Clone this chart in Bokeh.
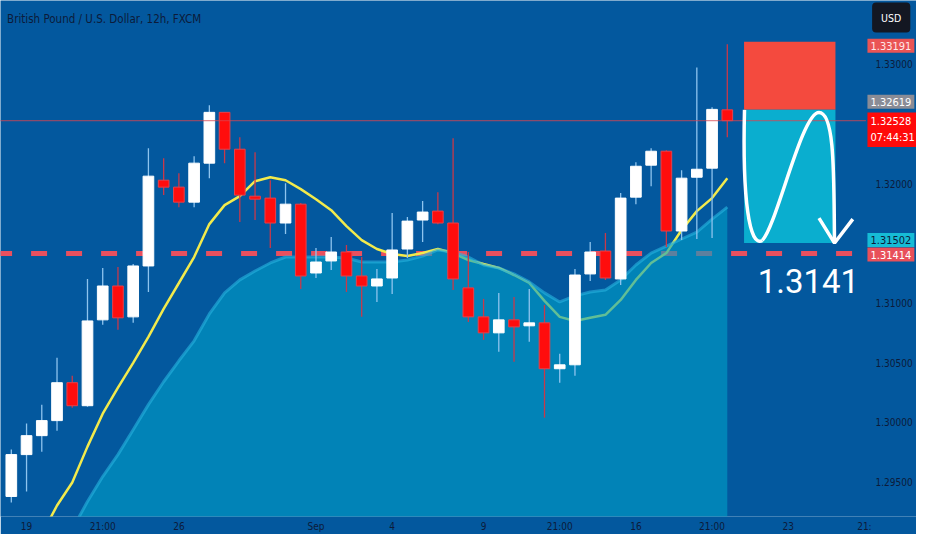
import numpy as np
from bokeh.plotting import figure
from bokeh.models import Range1d, FixedTicker, PrintfTickFormatter, Label, ColumnDataSource
from bokeh.embed import file_html
from bokeh.resources import INLINE

nan = float("nan")

title = "British Pound / U.S. Dollar, 12h, FXCM"

# 12h candles, GBP/USD
opens = [1.29377, 1.29728, 1.29887, 1.30013, 1.30331, 1.30138, 1.30858, 1.31142, 1.30883, 1.31310,
         1.32029, 1.31971, 1.31845, 1.32172, 1.32598, 1.32289, 1.31895, 1.31879, 1.31670, 1.31828,
         1.31251, 1.31352, 1.31427, 1.31226, 1.31142, 1.31209, 1.31452, 1.31695, 1.31770, 1.31670,
         1.31126, 1.30883, 1.30749, 1.30858, 1.30808, 1.30833, 1.30448, 1.30481, 1.31243, 1.31435,
         1.31201, 1.31887, 1.32155, 1.32272, 1.31603, 1.32054, 1.32130, 1.32619]
closes = [1.29728, 1.29887, 1.30013, 1.30331, 1.30138, 1.30849, 1.31142, 1.30875, 1.31310, 1.32063,
          1.31971, 1.31845, 1.32172, 1.32598, 1.32289, 1.31904, 1.31870, 1.31670, 1.31828, 1.31226,
          1.31343, 1.31427, 1.31226, 1.31142, 1.31201, 1.31444, 1.31686, 1.31762, 1.31670, 1.31201,
          1.30883, 1.30749, 1.30858, 1.30799, 1.30833, 1.30448, 1.30481, 1.31234, 1.31427, 1.31209,
          1.31879, 1.32146, 1.32272, 1.31603, 1.32046, 1.32121, 1.32623, 1.32528]
highs = [1.29770, 1.29988, 1.30147, 1.30540, 1.30389, 1.31201, 1.31293, 1.31301, 1.31326, 1.32297,
         1.32213, 1.32088, 1.32230, 1.32657, 1.32598, 1.32389, 1.32264, 1.32029, 1.32004, 1.31837,
         1.31460, 1.31552, 1.31485, 1.31385, 1.31285, 1.31753, 1.31720, 1.31854, 1.31929, 1.32381,
         1.31427, 1.31034, 1.31084, 1.31050, 1.31117, 1.30983, 1.30573, 1.31285, 1.31510, 1.31586,
         1.31921, 1.32180, 1.32297, 1.32280, 1.32113, 1.32975, 1.32640, 1.33170]
lows = [1.29326, 1.29418, 1.29753, 1.29929, 1.30120, 1.30130, 1.30816, 1.30774, 1.30833, 1.31092,
        1.31904, 1.31803, 1.31803, 1.32046, 1.32172, 1.31678, 1.31695, 1.31460, 1.31577, 1.31117,
        1.31209, 1.31276, 1.31092, 1.30883, 1.31008, 1.31075, 1.31377, 1.31510, 1.31660, 1.31109,
        1.30841, 1.30690, 1.30590, 1.30506, 1.30674, 1.30038, 1.30331, 1.30389, 1.31184, 1.31192,
        1.31151, 1.31828, 1.31979, 1.31469, 1.31527, 1.31536, 1.31544, 1.32389]

# moving averages (fast = yellow line, slow = filled area)
ma_fast = [nan, nan,
           1.29059, 1.29301, 1.29494, 1.29795, 1.30071, 1.30289, 1.30498, 1.30716, 1.30950, 1.31167,
           1.31385, 1.31661, 1.31820, 1.31895, 1.32021, 1.32054, 1.32029, 1.31954, 1.31870, 1.31778,
           1.31644, 1.31527, 1.31452, 1.31410, 1.31393, 1.31418, 1.31452, 1.31418, 1.31360, 1.31326,
           1.31293, 1.31234, 1.31167, 1.31017, 1.30883, 1.30849, 1.30875, 1.30900, 1.31025, 1.31193,
           1.31335, 1.31418, 1.31611, 1.31770, 1.31879, 1.32046]
ma_slow = [nan, nan, nan, nan,
           1.29101, 1.29335, 1.29544, 1.29728, 1.29937, 1.30147, 1.30339, 1.30515, 1.30682, 1.30908,
           1.31084, 1.31193, 1.31268, 1.31335, 1.31385, 1.31385, 1.31385, 1.31385, 1.31377, 1.31343,
           1.31343, 1.31343, 1.31360, 1.31393, 1.31444, 1.31427, 1.31385, 1.31318, 1.31293, 1.31243,
           1.31176, 1.31084, 1.31008, 1.31059, 1.31092, 1.31109, 1.31193, 1.31318, 1.31418, 1.31477,
           1.31536, 1.31594, 1.31703, 1.31803]

x_ticks = [1, 6, 11, 20, 25, 31, 36, 41, 46, 51, 56]
x_labels = ["19", "21:00", "26", "Sep", "4", "9", "21:00", "16", "21:00", "23", "21:"]
y_ticks = [1.295, 1.300, 1.305, 1.310, 1.320, 1.330]

# short position drawing
stop_price = 1.33191
entry_price = 1.32619
last_price = 1.32528
last_time = "07:44:31"
target_price = 1.31502
level_price = 1.31414
level_text = "1.3141"
trade_start, trade_end = 48.1, 54.1

BG = "#03589e"
INK = "#0c1b3a"
FONT = "Roboto"
NARROW = "DejaVu Sans Condensed"

y_top, y_bottom = 1.33536, 1.29209
chart_end = 56.1     # right edge of the candle pane, price scale sits after it
scale_x = 56.6
tag_x = 56.2

idx = list(range(len(opens)))
up = [c >= o for o, c in zip(opens, closes)]
src = ColumnDataSource(dict(
    x=idx, h=highs, l=lows,
    top=[max(o, c) for o, c in zip(opens, closes)],
    bot=[min(o, c) for o, c in zip(opens, closes)],
    body=["#ffffff" if u else "#ff0d0d" for u in up],
    edge=["#ffffff" if u else "#e8404a" for u in up],
    wick=["#8ec4ee" if u else "#c8394a" for u in up],
))

p = figure(width=916, height=534, x_range=Range1d(-0.71, 59.42), y_range=Range1d(y_bottom, y_top),
           y_axis_location="right", output_backend="svg", toolbar_location=None,
           background_fill_color=BG, border_fill_color=BG, outline_line_color=None,
           min_border=0, min_border_bottom=17)
p.grid.visible = False

for ax in (p.xaxis[0], p.yaxis[0]):
    ax.axis_line_color = None
    ax.major_tick_line_color = None
    ax.minor_tick_line_color = None
    ax.major_tick_out = 0
    ax.major_tick_in = 0
    ax.minor_tick_out = 0
    ax.major_label_text_color = INK
    ax.major_label_text_font = NARROW
    ax.major_label_text_font_size = "10px"
p.xaxis.ticker = FixedTicker(ticks=x_ticks)
p.xaxis.major_label_overrides = dict(zip(x_ticks, x_labels))
p.xaxis.major_label_standoff = 4
p.yaxis.ticker = FixedTicker(ticks=y_ticks)
p.yaxis.formatter = PrintfTickFormatter(format="%.5f")
p.yaxis.major_label_standoff = 2
p.yaxis.fixed_location = scale_x

# horizontal level + fast MA, under the translucent area
p.line([-1, chart_end], [level_price, level_price], line_color="#e8505f", line_width=5, line_dash="16 19")
p.line(idx, ma_fast, line_color="#f2ea4c", line_width=2.5)

xs = np.array(idx, dtype=float)
ys = np.array(ma_slow)
m = ~np.isnan(ys)
p.varea(x=xs[m], y1=1.28, y2=ys[m], fill_color="#00a0c8", fill_alpha=0.6)
p.line(xs[m], ys[m], line_color="#28b4e0", line_width=3, line_alpha=0.6)

# candles
p.segment(x0="x", y0="h", x1="x", y1="l", line_color="wick", line_width=1.3, source=src)
p.vbar(x="x", top="top", bottom="bot", width=0.7, fill_color="body", line_color="edge", line_width=1, source=src)

# short position boxes
p.quad(left=[trade_start], right=[trade_end], top=[stop_price], bottom=[entry_price],
       fill_color="#f44a3e", line_color=None)
p.quad(left=[trade_start], right=[trade_end], top=[entry_price], bottom=[target_price],
       fill_color="#0aaecf", line_color=None)

# current price line
p.line([-1, chart_end], [last_price, last_price], line_color="#d9434f", line_width=1, line_alpha=0.8)

# hand drawn path inside the target box (fractions of box width / height)
W = trade_end - trade_start
H = entry_price - target_price
def bx(f):
    return trade_start + f * W
def by(f):
    return target_price + f * H
curve = [
    ((0.005, 1.0), (-0.02, 0.32), (0.06, -0.04), (0.2, 0.02)),
    ((0.2, 0.02), (0.36, 0.135), (0.63, 0.98), (0.82, 0.98)),
    ((0.82, 0.98), (1.0, 0.98), (0.98, 0.47), (0.99, 0.0)),
]
p.bezier(x0=[bx(c[0][0]) for c in curve], y0=[by(c[0][1]) for c in curve],
         cx0=[bx(c[1][0]) for c in curve], cy0=[by(c[1][1]) for c in curve],
         cx1=[bx(c[2][0]) for c in curve], cy1=[by(c[2][1]) for c in curve],
         x1=[bx(c[3][0]) for c in curve], y1=[by(c[3][1]) for c in curve],
         line_color="white", line_width=3.5)
p.line([bx(0.82), bx(0.99), bx(1.19)], [by(0.187), by(0.0), by(0.18)], line_color="white", line_width=3.5)

p.add_layout(Label(x=55.65, y=level_price, y_offset=-27, text=level_text, text_align="right",
                   text_baseline="middle", text_color="white", text_font=FONT,
                   text_font_size="33px"))

# title
p.add_layout(Label(x=-0.28, y=y_top, y_offset=-18, text=title, text_baseline="middle",
                   text_color=INK, text_font=NARROW, text_font_size="11.5px"))

# price tags on the scale
tags = [
    (stop_price, -4, "%.5f" % stop_price, "#ea5455", "#ffe8e8"),
    (entry_price, 8, "%.5f" % entry_price, "#8a8c96", "white"),
    (last_price, -9, "%.5f\n%s" % (last_price, last_time), "#ff0a0a", "white"),
    (target_price, 3, "%.5f" % target_price, "#16bcd6", INK),
    (level_price, -1, "%.5f" % level_price, "#e8505a", "white"),
]
for yv, off, txt, bg, fg in tags:
    p.add_layout(Label(x=tag_x, y=yv, y_offset=off, text=txt, text_align="left", text_baseline="middle",
                       text_color=fg, text_font=NARROW, text_font_size="11px",
                       background_fill_color=bg, padding=3))

p.add_layout(Label(x=57.76, y=y_top, y_offset=-17, text="USD", text_align="center",
                   text_baseline="middle", text_color="white", text_font=NARROW,
                   text_font_size="10.5px", background_fill_color="#131722", padding=9,
                   border_radius=4))

open("out.html", "w").write(file_html(p, INLINE))
